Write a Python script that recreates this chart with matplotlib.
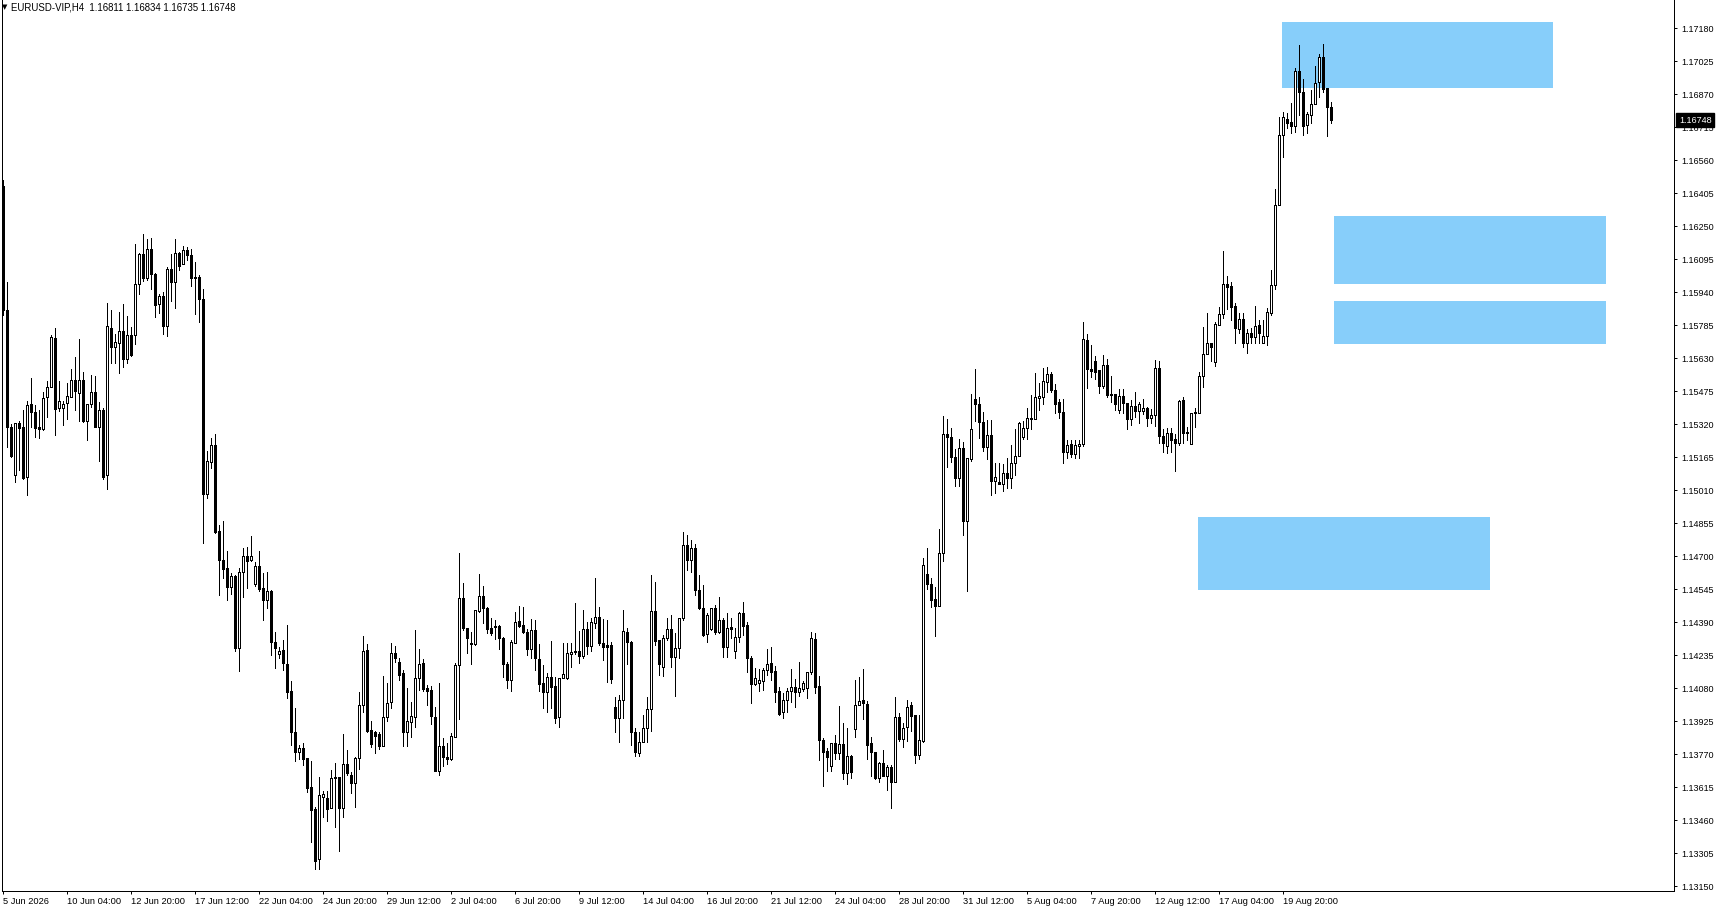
import numpy as np
import matplotlib
matplotlib.use('Agg')
import matplotlib.pyplot as plt
import matplotlib.transforms as mtransforms
from matplotlib.patches import Rectangle

plt.rcParams['font.family'] = ['Liberation Sans', 'DejaVu Sans']

# EURUSD H4, prices in points (1 point = 0.00001)
opens = [
    116439, 115857, 115309, 115083, 115325, 115306, 115071, 115415, 115376, 115307,
    115299, 115447, 115497, 115725, 115397, 115398, 115419, 115450, 115528, 115468,
    115528, 115337, 115415, 115472, 115309, 115387, 115081, 115772, 115685, 115703,
    115758, 115625, 115738, 115738, 115978, 116119, 116006, 116143, 116025, 115884,
    115923, 115780, 116050, 115987, 116123, 116072, 116139, 116115, 116013, 116012,
    115909, 114994, 115142, 115223, 114819, 114683, 114643, 114554, 114608, 114271,
    114628, 114700, 114681, 114569, 114653, 114550, 114496, 114537, 114296, 114240,
    114260, 114193, 114067, 113873, 113779, 113801, 113751, 113615, 113513, 113277,
    113571, 113566, 113516, 113663, 113663, 113519, 113725, 113673, 113634, 113754,
    114002, 114260, 113883, 113876, 113865, 113810, 113945, 114014, 114244, 114205,
    114153, 113876, 113923, 113944, 114130, 114197, 114081, 114072, 113944, 113693,
    113809, 113759, 113748, 113853, 114188, 114503, 114362, 114291, 114288, 114443,
    114514, 114456, 114362, 114373, 114373, 114315, 114194, 114119, 114291, 114395,
    114376, 114346, 114263, 114354, 114218, 114104, 114064, 114132, 114090, 113946,
    114130, 114127, 114243, 114255, 114255, 114233, 114357, 114280, 114388, 114414,
    114291, 114283, 114283, 113991, 113939, 114025, 114343, 114299, 113873, 113775,
    113829, 113892, 113981, 114444, 114307, 114182, 114318, 114357, 114228, 114268,
    114409, 114753, 114683, 114739, 114542, 114459, 114334, 114357, 114456, 114346,
    114401, 114275, 114367, 114255, 114320, 114434, 114377, 114224, 114100, 114106,
    114114, 114164, 114197, 114161, 114067, 113967, 114025, 114067, 114086, 114064,
    114075, 114083, 114158, 114310, 114091, 113837, 113786, 113716, 113822, 113778,
    113817, 113684, 113762, 113890, 114000, 114025, 114006, 113822, 113781, 113657,
    113728, 113668, 113709, 113642, 113944, 113843, 113897, 114000, 113955, 113768,
    113834, 114617, 114570, 114501, 114467, 114714, 115275, 115260, 115165, 115069,
    115207, 114867, 115156, 115439, 115414, 115329, 115215, 115270, 115055, 115050,
    115041, 115090, 115066, 115137, 115173, 115262, 115301, 115348, 115344, 115445,
    115448, 115517, 115555, 115480, 115423, 115376, 115191, 115226, 115179, 115220,
    115226, 115716, 115581, 115616, 115575, 115501, 115597, 115462, 115462, 115387,
    115453, 115421, 115345, 115406, 115384, 115384, 115397, 115348, 115362, 115583,
    115266, 115218, 115278, 115249, 115231, 115434, 115284, 115228, 115378, 115375,
    115547, 115649, 115701, 115614, 115788, 115838, 115978, 115970, 115876, 115768,
    115815, 115703, 115750, 115732, 115786, 115703, 115735, 115844, 115974, 116350,
    116678, 116753, 116738, 116722, 116978, 116881, 116724, 116773, 116823, 116926,
    117044, 116900, 116811,
]
highs = [
    116468, 115990, 115321, 115325, 115337, 115387, 115431, 115538, 115409, 115387,
    115472, 115522, 115741, 115772, 115523, 115428, 115513, 115580, 115636, 115721,
    115564, 115415, 115552, 115547, 115425, 115397, 115888, 115857, 115744, 115848,
    115885, 115829, 115778, 116167, 116126, 116212, 116190, 116194, 116031, 115932,
    115943, 116060, 116121, 116190, 116130, 116158, 116153, 116142, 116084, 116021,
    115956, 115195, 115254, 115275, 114847, 114867, 114725, 114623, 114612, 114643,
    114740, 114745, 114794, 114675, 114725, 114623, 114628, 114542, 114346, 114274,
    114307, 114377, 114114, 113989, 113814, 113822, 113751, 113740, 113524, 113662,
    113599, 113597, 113696, 113728, 113663, 113865, 113790, 113688, 113759, 114064,
    114326, 114287, 113926, 113881, 113876, 114138, 114104, 114291, 114277, 114221,
    114166, 114083, 114014, 114354, 114263, 114219, 114095, 114093, 113994, 114106,
    113848, 113822, 113871, 114200, 114717, 114573, 114362, 114346, 114446, 114616,
    114562, 114463, 114409, 114401, 114377, 114321, 114205, 114307, 114440, 114467,
    114461, 114357, 114407, 114401, 114288, 114190, 114151, 114302, 114135, 114127,
    114294, 114291, 114294, 114479, 114349, 114448, 114393, 114409, 114597, 114462,
    114406, 114401, 114296, 114041, 114049, 114448, 114362, 114302, 113895, 113876,
    113955, 114041, 114612, 114578, 114307, 114330, 114409, 114424, 114338, 114409,
    114814, 114800, 114777, 114758, 114612, 114565, 114432, 114456, 114471, 114507,
    114409, 114432, 114409, 114365, 114440, 114484, 114390, 114232, 114177, 114170,
    114173, 114263, 114274, 114185, 114088, 114057, 114080, 114170, 114124, 114202,
    114114, 114158, 114346, 114341, 114138, 113848, 113798, 113822, 113861, 113997,
    113918, 113892, 113767, 114119, 114135, 114170, 114022, 113853, 113781, 113734,
    113790, 113720, 113720, 114038, 113965, 113916, 114025, 114017, 113955, 113955,
    114691, 114738, 114597, 114554, 114828, 115359, 115344, 115301, 115204, 115251,
    115238, 115160, 115461, 115580, 115450, 115376, 115339, 115340, 115140, 115137,
    115134, 115160, 115223, 115298, 115332, 115336, 115395, 115458, 115560, 115513,
    115583, 115589, 115567, 115508, 115438, 115438, 115245, 115245, 115246, 115245,
    115802, 115744, 115693, 115641, 115575, 115646, 115627, 115547, 115462, 115486,
    115486, 115421, 115434, 115470, 115423, 115439, 115400, 115391, 115622, 115619,
    115299, 115304, 115304, 115273, 115434, 115450, 115309, 115375, 115395, 115567,
    115776, 115844, 115701, 115802, 115870, 116135, 116017, 115990, 115891, 115841,
    115844, 115766, 115774, 115876, 115810, 115810, 115865, 116045, 116424, 116762,
    116788, 116784, 116828, 116995, 117102, 116941, 116788, 116890, 117003, 117059,
    117106, 116900, 116834,
]
lows = [
    115833, 115215, 115166, 115050, 115105, 115063, 114987, 115306, 115262, 115257,
    115293, 115353, 115494, 115271, 115384, 115317, 115344, 115450, 115387, 115334,
    115331, 115245, 115403, 115306, 115149, 115062, 115018, 115607, 115607, 115560,
    115591, 115607, 115641, 115697, 115931, 115993, 115998, 115954, 115825, 115844,
    115746, 115736, 115901, 115868, 116045, 116072, 116093, 115971, 115840, 115799,
    114764, 114975, 115116, 114810, 114518, 114597, 114495, 114525, 114255, 114163,
    114510, 114553, 114678, 114561, 114537, 114401, 114456, 114236, 114174, 114224,
    114166, 114033, 113814, 113740, 113748, 113720, 113594, 113360, 113231, 113231,
    113474, 113458, 113516, 113430, 113316, 113474, 113673, 113587, 113524, 113701,
    113967, 113876, 113806, 113775, 113795, 113810, 113926, 113989, 114205, 114119,
    113810, 113810, 113850, 113897, 114072, 114069, 114002, 113912, 113690, 113673,
    113716, 113725, 113743, 113853, 113936, 114354, 114247, 114193, 114283, 114440,
    114388, 114338, 114330, 114310, 114263, 114135, 114080, 114069, 114291, 114370,
    114341, 114236, 114221, 114166, 114069, 113986, 113970, 113989, 113916, 113897,
    114127, 114124, 114182, 114240, 114197, 114224, 114240, 114255, 114365, 114283,
    114213, 114108, 114104, 113873, 113826, 113941, 114193, 113814, 113763, 113763,
    113826, 113826, 113881, 114283, 114142, 114139, 114307, 114182, 114045, 114224,
    114401, 114636, 114627, 114518, 114453, 114327, 114299, 114354, 114334, 114341,
    114228, 114228, 114315, 114224, 114299, 114330, 114155, 114010, 114095, 114069,
    114073, 114142, 114119, 114014, 113955, 113941, 113970, 114014, 113991, 114045,
    114067, 114033, 114146, 114057, 113743, 113621, 113693, 113693, 113749, 113749,
    113655, 113631, 113657, 113853, 114000, 113934, 113746, 113668, 113652, 113642,
    113666, 113602, 113516, 113642, 113834, 113806, 113834, 113881, 113731, 113749,
    113829, 114545, 114463, 114326, 114467, 114679, 115121, 115142, 115032, 115032,
    114800, 114537, 115148, 115336, 115257, 115195, 115156, 114988, 114999, 115038,
    115007, 115019, 115019, 115082, 115173, 115251, 115251, 115298, 115344, 115387,
    115414, 115473, 115473, 115375, 115351, 115137, 115160, 115168, 115163, 115163,
    115218, 115489, 115544, 115531, 115468, 115489, 115447, 115423, 115387, 115375,
    115375, 115299, 115315, 115353, 115328, 115368, 115313, 115328, 115313, 115234,
    115189, 115184, 115189, 115102, 115223, 115231, 115246, 115228, 115309, 115375,
    115497, 115649, 115619, 115594, 115788, 115818, 115860, 115810, 115701, 115750,
    115685, 115654, 115701, 115701, 115701, 115701, 115693, 115833, 115954, 116350,
    116574, 116713, 116690, 116694, 116773, 116679, 116690, 116737, 116823, 116859,
    116882, 116674, 116735,
]
closes = [
    115857, 115309, 115171, 115325, 115301, 115069, 115409, 115379, 115304, 115299,
    115442, 115494, 115732, 115393, 115428, 115415, 115453, 115527, 115475, 115528,
    115337, 115415, 115472, 115309, 115387, 115074, 115782, 115682, 115705, 115758,
    115625, 115738, 115647, 115978, 116119, 116006, 116143, 116025, 115880, 115923,
    115780, 116050, 115987, 116123, 116065, 116137, 116115, 116009, 116009, 115909,
    114991, 115148, 115223, 114813, 114681, 114639, 114554, 114608, 114271, 114628,
    114700, 114678, 114700, 114656, 114545, 114496, 114537, 114296, 114268, 114255,
    114197, 114064, 113873, 113779, 113798, 113748, 113613, 113508, 113270, 113579,
    113584, 113513, 113657, 113657, 113519, 113725, 113684, 113634, 113751, 114002,
    114255, 113881, 113817, 113857, 113810, 113945, 114011, 114244, 114224, 114142,
    113876, 113926, 113950, 114130, 114194, 114078, 114069, 113951, 113693, 113809,
    113759, 113748, 113856, 114190, 114503, 114362, 114318, 114288, 114446, 114514,
    114456, 114360, 114338, 114368, 114315, 114193, 114119, 114298, 114390, 114373,
    114343, 114263, 114354, 114221, 114100, 114064, 114132, 114088, 113941, 114127,
    114146, 114244, 114252, 114252, 114233, 114357, 114280, 114390, 114414, 114291,
    114275, 114275, 114124, 113941, 114025, 114349, 114296, 113873, 113782, 113829,
    113892, 113981, 114444, 114304, 114193, 114315, 114357, 114228, 114268, 114409,
    114753, 114683, 114739, 114542, 114459, 114330, 114424, 114456, 114346, 114401,
    114275, 114365, 114360, 114320, 114434, 114374, 114221, 114100, 114127, 114119,
    114166, 114193, 114155, 114064, 113958, 114024, 114069, 114085, 114061, 114080,
    114104, 114158, 114315, 114088, 113837, 113782, 113756, 113822, 113775, 113817,
    113684, 113762, 113688, 114002, 114019, 114009, 113814, 113781, 113659, 113731,
    113668, 113709, 113642, 113944, 113843, 113892, 113994, 113950, 113765, 113837,
    114659, 114570, 114495, 114467, 114714, 115275, 115259, 115168, 115069, 115207,
    114867, 115160, 115297, 115414, 115329, 115215, 115270, 115055, 115071, 115040,
    115090, 115066, 115137, 115173, 115325, 115301, 115348, 115343, 115447, 115452,
    115523, 115555, 115480, 115417, 115376, 115191, 115223, 115179, 115223, 115226,
    115721, 115578, 115572, 115567, 115501, 115597, 115458, 115458, 115414, 115453,
    115419, 115345, 115406, 115384, 115415, 115397, 115348, 115362, 115583, 115266,
    115231, 115278, 115246, 115231, 115428, 115281, 115278, 115375, 115371, 115547,
    115649, 115701, 115682, 115791, 115838, 115978, 115966, 115872, 115774, 115815,
    115703, 115750, 115732, 115783, 115747, 115735, 115846, 115974, 116350, 116678,
    116765, 116737, 116721, 116978, 116881, 116721, 116776, 116823, 116922, 117044,
    116896, 116809, 116748,
]

# time axis: one label every 16 bars
time_labels = ['5 Jun 2026', '10 Jun 04:00', '12 Jun 20:00', '17 Jun 12:00', '22 Jun 04:00',
               '24 Jun 20:00', '29 Jun 12:00', '2 Jul 04:00', '6 Jul 20:00', '9 Jul 12:00',
               '14 Jul 04:00', '16 Jul 20:00', '21 Jul 12:00', '24 Jul 04:00', '28 Jul 20:00',
               '31 Jul 12:00', '5 Aug 04:00', '7 Aug 20:00', '12 Aug 12:00', '17 Aug 04:00',
               '19 Aug 20:00']
label_bars = [16 * k for k in range(len(time_labels))]

# zones drawn on the chart (bar index start/end, price low/high)
zone_start = [319.7, 332.8, 332.8, 298.9]
zone_end = [387.6, 400.8, 400.8, 371.9]
zone_low = [1.16901, 1.15979, 1.15695, 1.14541]
zone_high = [1.17210, 1.16298, 1.15901, 1.14886]

price_ticks = [1.13150 + 0.00155 * k for k in range(27)]
last_price = 1.16748
header = 'EURUSD-VIP,H4  1.16811 1.16834 1.16735 1.16748'

o = np.array(opens) / 1e5
h = np.array(highs) / 1e5
l = np.array(lows) / 1e5
c = np.array(closes) / 1e5
x = np.arange(len(o))
up = c >= o

W, H = 1720, 914
fig = plt.figure(figsize=(W / 100, H / 100), dpi=100)
fig.patch.set_facecolor('white')
ax = fig.add_axes([2 / W, 23.3 / H, 1672 / W, 890.7 / H])
ax.set_facecolor('white')

PX = 0.72  # one pixel in points

for x0, x1, lo, hi in zip(zone_start, zone_end, zone_low, zone_high):
    ax.add_patch(Rectangle((x0, lo), x1 - x0, hi - lo, facecolor='#87CEFA',
                           edgecolor='none', zorder=1))

ax.vlines(x, l, h, color='black', linewidth=PX, antialiased=False, zorder=3)
ax.bar(x, np.abs(c - o), bottom=np.minimum(o, c), width=0.5,
       color=np.where(up, 'white', 'black'), edgecolor='black',
       linewidth=PX, antialiased=False, zorder=4)

ax.set_xlim(-0.175, 417.825)
ax.set_ylim(1.131293, 1.173129)

for side in ['top']:
    ax.spines[side].set_visible(False)
for side in ['left', 'right', 'bottom']:
    ax.spines[side].set_linewidth(PX)
    ax.spines[side].set_color('black')

ax.yaxis.tick_right()
ax.set_yticks(price_ticks)
ax.set_yticklabels([f'{v:.5f}' for v in price_ticks])
ax.tick_params(axis='y', direction='out', length=2.2, width=PX, pad=3.2,
               labelsize=6.5, colors='black')

ax.set_xticks(label_bars)
ax.set_xticklabels(time_labels)
ax.tick_params(axis='x', direction='out', length=2.2, width=PX, pad=2.2,
               labelsize=6.7, colors='black')
for lab in ax.get_xticklabels():
    lab.set_horizontalalignment('left')

# current price marker on the price scale
trans = mtransforms.blended_transform_factory(ax.transAxes, ax.transData)
off = mtransforms.ScaledTranslation(5 / 100, 0, fig.dpi_scale_trans)
ax.text(1.0, last_price, f'{last_price:.5f}', transform=trans + off,
        ha='left', va='center', fontsize=6.5, color='white', zorder=10,
        bbox=dict(boxstyle='square,pad=0.28', facecolor='black', edgecolor='black'),
        clip_on=False)

# header
fig.text(5 / W, 1 - 7 / H, '▼', fontsize=5, ha='center', va='center',
         family=['DejaVu Sans'])
fig.text(10.7 / W, 1 - 7 / H, header, fontsize=6.9, ha='left', va='center')

fig.savefig('out.png', dpi=100, facecolor='white')
